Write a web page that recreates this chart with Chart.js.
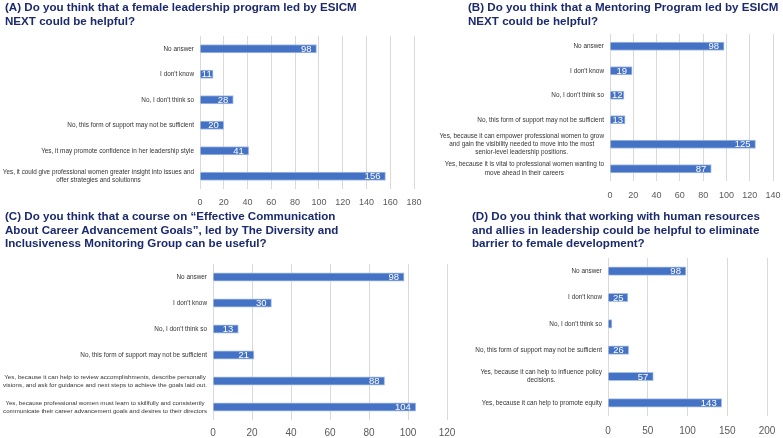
<!DOCTYPE html>
<html><head><meta charset="utf-8">
<script src="https://cdn.jsdelivr.net/npm/chart.js@4.4.0/dist/chart.umd.min.js"></script>
<style>
html,body{margin:0;padding:0;background:#fff;width:783px;height:438px;overflow:hidden;position:relative;font-family:"Liberation Sans",Arial,sans-serif;}
.t{position:absolute;font-weight:bold;font-size:11.6px;line-height:13.5px;color:#1b2a6e;white-space:nowrap;z-index:2}
canvas{position:absolute;}
</style></head>
<body>
<div class="t" style="left:5px;top:0px">(A) Do you think that a female leadership program led by ESICM<br>NEXT could be helpful?</div>
<div class="t" style="left:468px;top:0px">(B) Do you think that a Mentoring Program led by ESICM<br>NEXT could be helpful?</div>
<div class="t" style="left:5px;top:209px">(C) Do you think that a course on “Effective Communication<br>About Career Advancement Goals”, led by The Diversity and<br>Inclusiveness Monitoring Group can be useful?</div>
<div class="t" style="left:472px;top:209px">(D) Do you think that working with human resources<br>and allies in leadership could be helpful to eliminate<br>barrier to female development?</div>
<canvas id="cA" width="430" height="215" style="left:0;top:0"></canvas>
<canvas id="cB" width="383" height="215" style="left:400px;top:0"></canvas>
<canvas id="cC" width="460" height="223" style="left:0;top:215px"></canvas>
<canvas id="cD" width="333" height="223" style="left:450px;top:215px"></canvas>
<script>
const labelsA = ["No answer", "I don't know", "No, I don't think so", "No, this form of support may not be sufficient", "Yes, it may promote confidence in her leadership style", ["Yes, it could give professional women greater insight into issues and", "offer strategies and solutionns"]];
const valuesA = [98, 11, 28, 20, 41, 156];
const labelsB = ["No answer", "I don't know", "No, I don't think so", "No, this form of support may not be sufficient", ["Yes, because it can empower professional women to grow", "and gain the visibility needed to move into the most", "senior-level leadership positions."], ["Yes, because it is vital to professional women wanting to", "move ahead in their careers"]];
const valuesB = [98, 19, 12, 13, 125, 87];
const labelsC = ["No answer", "I don't know", "No, I don't think so", "No, this form of support may not be sufficient", ["Yes, because it can help to review accomplishments, describe personally", "visions, and ask for guidance and next steps to achieve the goals laid out."], ["Yes, because professional women must learn to skillfully and consistently", "communicate their career advancement goals and desires to their directors"]];
const valuesC = [98, 30, 13, 21, 88, 104];
const labelsD = ["No answer", "I don't know", "No, I don't think so", "No, this form of support may not be sufficient", ["Yes, because it can help to influence policy", "decisions."], "Yes, because it can help to promote equity"];
const valuesD = [98, 25, 5, 26, 57, 143];
const ticksA = {max: 180, step: 20};
const ticksB = {max: 140, step: 20};
const ticksC = {max: 120, step: 20};
const ticksD = {max: 200, step: 50};

const FONT = '"Liberation Sans", Arial, sans-serif';
const labelPlugin = {
  id: 'lbl',
  afterDraw(chart) {
    const ctx = chart.ctx, ys = chart.scales.y, meta = chart.getDatasetMeta(0);
    ctx.save();
    ctx.fillStyle = '#333333';
    ctx.textBaseline = 'middle';
    ctx.textAlign = 'center';
    const avail = chart.chartArea.left - 6 - 3;
    chart.data.labels.forEach((lab, i) => {
      const lines = Array.isArray(lab) ? lab : [lab];
      let fs = 6.4;
      ctx.font = fs + 'px ' + FONT;
      let w = Math.max(...lines.map(l => ctx.measureText(l).width));
      if (w > avail) {
        fs = fs * avail / w;
        ctx.font = fs.toFixed(2) + 'px ' + FONT;
        w = Math.max(...lines.map(l => ctx.measureText(l).width));
      }
      const cx = chart.chartArea.left - 6 - w / 2;
      const cy = ys.getPixelForValue(i);
      const lh = 8.2;
      lines.forEach((l, j) => ctx.fillText(l, cx, cy + (j - (lines.length - 1) / 2) * lh));
    });
    ctx.font = '9.5px ' + FONT;
    ctx.fillStyle = '#ffffff';
    meta.data.forEach((bar, i) => {
      const v = chart.data.datasets[0].data[i];
      if (v < 8) return;
      const txt = String(v);
      const tw = ctx.measureText(txt).width;
      const bw = bar.x - bar.base;
      if (bw < tw + 10) {
        ctx.textAlign = 'center';
        ctx.fillText(txt, (bar.x + bar.base) / 2, bar.y + 0.5);
      } else {
        ctx.textAlign = 'right';
        ctx.fillText(txt, bar.x - 5, bar.y + 0.5);
      }
    });
    ctx.restore();
  }
};

function makeChart(id, labels, values, tk, o) {
  return new Chart(document.getElementById(id), {
    type: 'bar',
    data: {labels: labels, datasets: [{data: values, backgroundColor: '#4472C4', borderColor: '#a9bfe6', borderWidth: 1, barThickness: 8.5}]},
    options: {
      indexAxis: 'y', responsive: false, animation: false, devicePixelRatio: 1,
      layout: {padding: {top: o.top, right: o.right, left: 0, bottom: 0}},
      plugins: {legend: {display: false}, tooltip: {enabled: false}},
      scales: {
        x: {
          min: 0, max: tk.max,
          ticks: {stepSize: tk.step, padding: o.tp, color: '#595959', font: {size: o.fs, family: FONT}},
          grid: {color: '#d9d9d9', drawTicks: false},
          border: {display: false},
          afterFit(s) { s.height = o.xh; s.paddingLeft = 0; s.paddingRight = 0; }
        },
        y: {
          ticks: {display: false},
          grid: {display: false},
          border: {display: false},
          afterFit(s) { s.width = o.yw; s.paddingTop = 0; s.paddingBottom = 0; }
        }
      }
    },
    plugins: [labelPlugin]
  });
}

makeChart('cA', labelsA, valuesA, ticksA, {top: 36, right: 16, xh: 26, yw: 200, tp: 8, fs: 9});
makeChart('cB', labelsB, valuesB, ticksB, {top: 34, right: 10, xh: 34, yw: 210, tp: 9, fs: 9});
makeChart('cC', labelsC, valuesC, ticksC, {top: 49, right: 13, xh: 18, yw: 213, tp: 7, fs: 10});
makeChart('cD', labelsD, valuesD, ticksD, {top: 43, right: 16, xh: 22, yw: 158, tp: 9, fs: 10});
</script>
</body></html>
